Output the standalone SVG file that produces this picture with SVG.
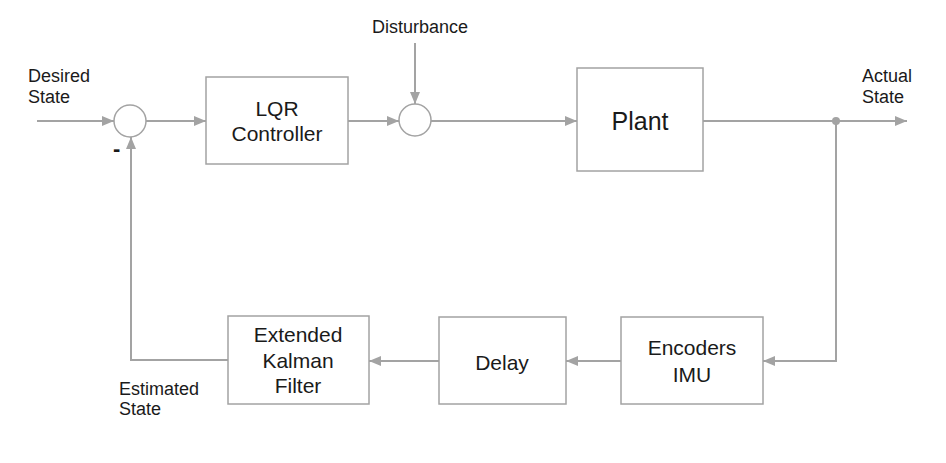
<svg xmlns="http://www.w3.org/2000/svg" width="946" height="463" viewBox="0 0 946 463">
<style>
.box{fill:#fff;stroke:#a3a3a3;stroke-width:1.5}
.sum{fill:#fff;stroke:#a3a3a3;stroke-width:1.5}
.ln{fill:none;stroke:#a3a3a3;stroke-width:2}
.t{font-family:"Liberation Sans",Arial,sans-serif;fill:#1a1a1a}
.c{text-anchor:middle}
</style>
<defs>
<marker id="ah" viewBox="0 0 12 10" refX="12" refY="5" markerWidth="12" markerHeight="10" markerUnits="userSpaceOnUse" orient="auto">
<path d="M0,0 L12,5 L0,10 z" fill="#a3a3a3"/>
</marker>
</defs>
<rect width="946" height="463" fill="#fff"/>
<g id="connectors">
<path class="ln" d="M37,121 H114" marker-end="url(#ah)"/>
<path class="ln" d="M146,121 H206" marker-end="url(#ah)"/>
<path class="ln" d="M348,121 H399" marker-end="url(#ah)"/>
<path class="ln" d="M415,43 V104" marker-end="url(#ah)"/>
<path class="ln" d="M431,121 H577" marker-end="url(#ah)"/>
<path class="ln" d="M703,121 H907" marker-end="url(#ah)"/>
<path class="ln" d="M836,121 V361 H763" marker-end="url(#ah)"/>
<path class="ln" d="M621,361 H566" marker-end="url(#ah)"/>
<path class="ln" d="M439,361 H369" marker-end="url(#ah)"/>
<path class="ln" d="M228,360 H131 V137" marker-end="url(#ah)"/>
<circle cx="836" cy="121" r="4" fill="#a3a3a3"/>
</g>
<g id="sum1"><circle class="sum" cx="130" cy="121" r="16"/></g>
<g id="sum2"><circle class="sum" cx="415" cy="120" r="16"/></g>
<g id="lqr"><rect class="box" x="206" y="77" width="142" height="87"/>
<text class="t c" x="277" y="116" font-size="21">LQR</text>
<text class="t c" x="277" y="141" font-size="21">Controller</text></g>
<g id="plant"><rect class="box" x="577" y="68" width="126" height="103"/>
<text class="t c" x="640" y="130" font-size="25">Plant</text></g>
<g id="ekf"><rect class="box" x="228" y="316" width="141" height="88"/>
<text class="t c" x="298" y="342" font-size="21">Extended</text>
<text class="t c" x="298" y="368" font-size="21">Kalman</text>
<text class="t c" x="298" y="393" font-size="21">Filter</text></g>
<g id="delay"><rect class="box" x="439" y="317" width="127" height="87"/>
<text class="t c" x="502" y="370" font-size="21">Delay</text></g>
<g id="encoders"><rect class="box" x="621" y="317" width="142" height="87"/>
<text class="t c" x="692" y="355" font-size="21">Encoders</text>
<text class="t c" x="692" y="382" font-size="21">IMU</text></g>
<g id="labels">
<text class="t" x="28" y="82" font-size="18">Desired</text>
<text class="t" x="28" y="103" font-size="18">State</text>
<text class="t" x="372" y="33" font-size="18">Disturbance</text>
<text class="t" x="862" y="82" font-size="18">Actual</text>
<text class="t" x="862" y="103" font-size="18">State</text>
<text class="t" x="119" y="395" font-size="18">Estimated</text>
<text class="t" x="119" y="415" font-size="18">State</text>
<text class="t" x="113" y="156" font-size="22" font-weight="bold">-</text>
</g>
</svg>
